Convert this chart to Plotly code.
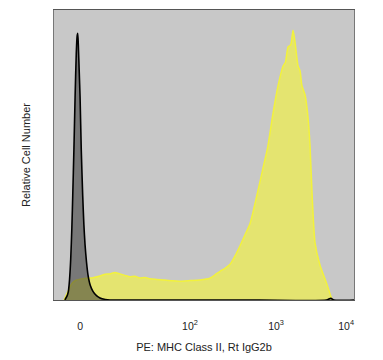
import plotly.graph_objects as go

# Isotype control (black) histogram: channel vs relative count
iso_x = [37, 45, 49, 53, 57, 61, 64, 68, 72, 76, 79, 81, 83, 86, 89, 93, 98, 102, 106, 111, 116, 124, 133, 145, 157, 175, 191, 400, 700, 930, 945, 955, 1024]
iso_y = [0, 1.5, 3, 7, 14, 25, 36, 52, 70, 85, 91, 92, 88, 79, 70, 52, 36, 26, 19, 13, 8.7, 5, 3, 1.5, 0.7, 0.2, 0, 0, 0, 0, 0.6, 0, 0]

# MHC Class II stained (yellow) histogram
mhc_x = [34, 48, 61, 75, 89, 110, 133, 157, 175, 191, 208, 225, 242, 259, 276, 293, 310, 328, 350, 379, 405, 430, 465, 498, 532, 550, 567, 585, 601, 618, 635, 652, 669, 693, 713, 730, 747, 765, 782, 790, 799, 808, 816, 823, 833, 840, 846, 857, 867, 874, 881, 891, 908, 932, 949]
mhc_y = [0, 3, 5.7, 6.8, 7.2, 7.5, 7.7, 8.3, 8.9, 9.0, 9.5, 9.0, 8.5, 8.0, 8.2, 7.6, 7.8, 7.3, 7.1, 6.9, 6.6, 6.5, 6.7, 6.9, 7.5, 8.7, 9.9, 11, 12.3, 15.2, 18.7, 22.5, 26.3, 36.3, 45.3, 53, 64, 74, 80.7, 82, 87.3, 88, 93, 88.7, 80.7, 79, 74, 70.7, 63, 53, 36.3, 19.7, 12, 5.3, 0]

tick_vals = [89, 464, 758, 997]
tick_text = ["0", "10<sup>2</sup>", "10<sup>3</sup>", "10<sup>4</sup>"]

fig = go.Figure()
fig.add_trace(go.Scatter(
    x=mhc_x, y=mhc_y, mode="lines", fill="tozeroy",
    line=dict(color="rgb(242,242,60)", width=1.5, shape="spline", smoothing=0.6),
    fillcolor="rgb(228,228,112)", hoverinfo="skip"))
fig.add_trace(go.Scatter(
    x=iso_x, y=iso_y, mode="lines", fill="tozeroy",
    line=dict(color="black", width=1.6, shape="spline", smoothing=0.6),
    fillcolor="rgba(55,55,55,0.55)", hoverinfo="skip"))

fig.update_layout(
    width=383, height=360,
    margin=dict(l=54, r=29, t=9, b=51),
    paper_bgcolor="white", plot_bgcolor="rgb(200,200,200)",
    showlegend=False,
    font=dict(family="Liberation Sans, Arial, sans-serif", size=10, color="#222"),
)
fig.update_xaxes(
    range=[0, 1024], tickvals=tick_vals, ticktext=tick_text,
    showgrid=False, zeroline=False, showline=True, linecolor="#555", linewidth=1,
    mirror=True, ticks="", ticklabelstandoff=16, tickfont=dict(size=10.5),
    title=dict(text="PE: MHC Class II, Rt IgG2b", font=dict(size=11), standoff=12))
fig.update_yaxes(
    range=[0, 100], showticklabels=False, showgrid=False, zeroline=False,
    showline=True, linecolor="#777", linewidth=1, mirror=True, ticks="",
    title=dict(text="Relative Cell Number", font=dict(size=11), standoff=20))

fig.write_html("out.html")
